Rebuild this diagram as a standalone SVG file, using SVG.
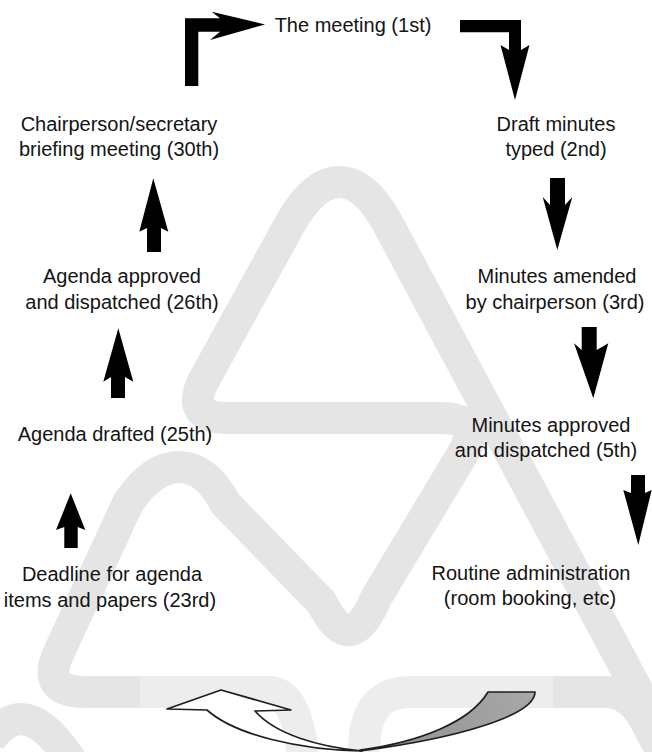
<svg xmlns="http://www.w3.org/2000/svg" width="652" height="752" viewBox="0 0 652 752">
  <style>
    .band { fill: none; stroke: #e5e5e5; stroke-width: 32; stroke-linejoin: round; stroke-linecap: butt; }
    .label { font-family: "Liberation Sans", Arial, sans-serif; font-size: 20px; fill: #141414; text-anchor: middle; }
    .arrow { fill: #000; stroke: none; }
    .ribbon { stroke: #1e1e1e; stroke-width: 1.7; stroke-linejoin: round; }
  </style>
  <defs>
    <linearGradient id="tailShade" x1="360" y1="750" x2="535" y2="692" gradientUnits="userSpaceOnUse">
      <stop offset="0" stop-color="#5a5a5a"/>
      <stop offset="0.3" stop-color="#969696"/>
      <stop offset="1" stop-color="#a8a8a8"/>
    </linearGradient>
  </defs>

  <rect x="0" y="0" width="652" height="752" fill="#ffffff"/>

  <!-- background looped band -->
  <g id="background">
    <path class="band" d="M 672,755 L 388,224 C 358,168 321,168 290,224 L 205,378 Q 183,418 228,418 L 440,418 Q 484,418 462,455 L 376,598 Q 350,660 322,603 L 225,503 C 200,455 160,455 128,503 L 60,650 Q 39,692 85,692 L 268,692 Q 300,692 304,770"/>
    <path class="band" d="M 362,770 L 365,735 Q 370,692 410,692 L 605,692 Q 630,692 645,720 L 662,752"/>
    <path class="band" d="M -10,740 Q 28,685 80,775"/>
    <rect x="140" y="660" width="413" height="92" fill="#ffffff" opacity="0.3"/>
  </g>

  <!-- twisted return arrow -->
  <g id="return-arrow">
    <path class="ribbon" fill="url(#tailShade)" d="M 360,750 C 420,742 470,722 488,692 L 535,692 C 535,715 460,738 360,751 Z"/>
    <path class="ribbon" fill="#ffffff" d="M 207,710 C 235,735 300,750 362,751 C 320,747 276,735 255,711 L 291,710 L 221,690 L 167,709 Z"/>
  </g>

  <!-- nodes -->
  <g id="node-meeting">
    <text class="label" x="353" y="32">The meeting (1st)</text>
  </g>
  <g id="node-draft-minutes">
    <text class="label" x="556" y="131">Draft minutes</text>
    <text class="label" x="556" y="156">typed (2nd)</text>
  </g>
  <g id="node-minutes-amended">
    <text class="label" x="557" y="283">Minutes amended</text>
    <text class="label" x="555" y="309">by chairperson (3rd)</text>
  </g>
  <g id="node-minutes-approved">
    <text class="label" x="551" y="432">Minutes approved</text>
    <text class="label" x="546" y="457">and dispatched (5th)</text>
  </g>
  <g id="node-routine-admin">
    <text class="label" x="531" y="580">Routine administration</text>
    <text class="label" x="530" y="605">(room booking, etc)</text>
  </g>
  <g id="node-deadline">
    <text class="label" x="112" y="581">Deadline for agenda</text>
    <text class="label" x="110" y="607">items and papers (23rd)</text>
  </g>
  <g id="node-agenda-drafted">
    <text class="label" x="115" y="441">Agenda drafted (25th)</text>
  </g>
  <g id="node-agenda-approved">
    <text class="label" x="122" y="283">Agenda approved</text>
    <text class="label" x="122" y="309">and dispatched (26th)</text>
  </g>
  <g id="node-briefing">
    <text class="label" x="119" y="131">Chairperson/secretary</text>
    <text class="label" x="119" y="156">briefing meeting (30th)</text>
  </g>

  <!-- connectors -->
  <g id="connectors">
    <!-- briefing -> meeting (elbow) -->
    <polygon class="arrow" points="185,86 185,18.3 220,18.3 211.7,11.7 265,24.5 210,40 220,31.7 198.3,31.7 198.3,86"/>
    <!-- meeting -> draft minutes (elbow) -->
    <polygon class="arrow" points="460,20 521,20 521,50 529.5,45 515,100 500.5,45 509,50 509,32.3 460,32.3"/>
    <!-- draft -> amended -->
    <polygon class="arrow" points="550,178 565,178 565,205 572.3,197 557.3,250 542.7,197 550,205"/>
    <!-- amended -> approved -->
    <polygon class="arrow" points="581.7,327 596.7,327 596.7,350 608.3,343.3 593.3,398.3 574,343.3 581.7,350"/>
    <!-- approved -> routine -->
    <polygon class="arrow" points="631,475 645,475 645,493 651.7,490 638.3,545 623.3,490 631,493"/>
    <!-- deadline -> agenda drafted -->
    <polygon class="arrow" points="64.3,548 64.3,527 56,530 70.7,493.3 85.3,530 77.7,527 77.7,548"/>
    <!-- drafted -> approved -->
    <polygon class="arrow" points="111,398 111,377 103.3,381.7 118.3,328.3 133.3,381.7 125,377 125,398"/>
    <!-- approved -> briefing -->
    <polygon class="arrow" points="147,252 147,228 139.3,231.7 153.3,178.3 168.3,231.7 161,228 161,252"/>
  </g>
</svg>
